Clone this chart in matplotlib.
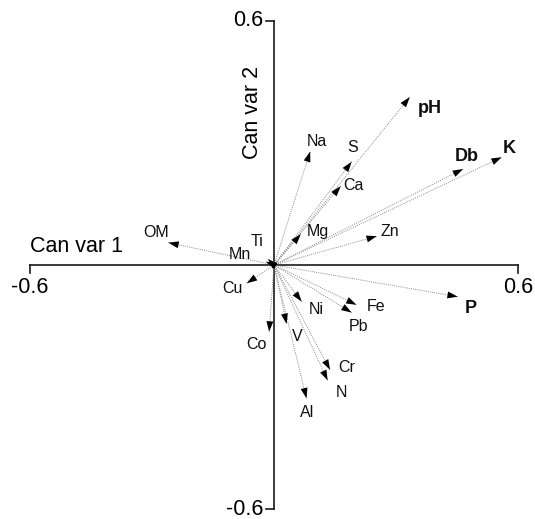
import matplotlib.pyplot as plt
import numpy as np

plt.rcParams['font.family'] = ['Liberation Sans', 'DejaVu Sans']

# canonical variate loadings (arrow tips)
variables = ["pH", "K", "Db", "Zn", "P", "Na", "S", "Ca", "Mg", "OM", "Ti", "Mn",
             "Cu", "Ni", "Fe", "Pb", "Co", "V", "Cr", "N", "Al"]
can1 = [0.334, 0.560, 0.465, 0.253, 0.452, 0.089, 0.191, 0.164, 0.066, -0.260, -0.015, -0.020,
        -0.067, 0.068, 0.203, 0.191, -0.012, 0.031, 0.138, 0.132, 0.080]
can2 = [0.413, 0.265, 0.236, 0.071, -0.078, 0.279, 0.254, 0.194, 0.076, 0.055, 0.015, 0.008,
        -0.045, -0.090, -0.098, -0.117, -0.164, -0.145, -0.258, -0.284, -0.328]
bold_vars = ["pH", "K", "Db", "P"]

axis_limit = 0.6
tick_labels = ["-0.6", "0.6"]

# label offsets from arrow tip, in pixels (layout only)
label_offsets = {
    "pH": (20, -11), "K": (7, 9), "Db": (4, 13), "Zn": (13, 5), "P": (13, -12),
    "Na": (7, 10), "S": (1, 14), "Ca": (13, 1), "Mg": (17, 3), "OM": (-12, 10),
    "Ti": (-11, 17), "Mn": (-26, 7), "Cu": (-14, -5), "Ni": (15, -8), "Fe": (20, -2),
    "Pb": (7, -14), "Co": (-13, -13), "V": (11, -13), "Cr": (17, 2), "N": (14, -12),
    "Al": (1, -14),
}

W, H = 535, 519
ox, oy = 274, 265          # pixel position of origin
scale = 406.7              # pixels per unit

fig = plt.figure(figsize=(W / 100, H / 100), dpi=100)
ax = fig.add_axes([0, 0, 1, 1])
ax.set_xlim(-ox / scale, (W - ox) / scale)
ax.set_ylim((oy - H) / scale, oy / scale)
ax.axis('off')

axc = '#1a1a1a'
tick = 8 / scale
ax.plot([-axis_limit, axis_limit], [0, 0], color=axc, lw=1.2, zorder=1)
ax.plot([0, 0], [-axis_limit, axis_limit], color=axc, lw=1.2, zorder=1)
for v in (-axis_limit, axis_limit):
    ax.plot([v, v], [0, -tick], color=axc, lw=1.2)
    ax.plot([0, -tick], [v, v], color=axc, lw=1.2)

fs_tick = 15.5
ax.text(-axis_limit, -12 / scale, tick_labels[0], ha='center', va='top', fontsize=fs_tick)
ax.text(axis_limit, -12 / scale, tick_labels[1], ha='center', va='top', fontsize=fs_tick)
ax.text(-11 / scale, axis_limit, tick_labels[1], ha='right', va='center', fontsize=fs_tick)
ax.text(-11 / scale, -axis_limit, tick_labels[0], ha='right', va='center', fontsize=fs_tick)

ax.text(-axis_limit, 0.0455, "Can var 1", ha='left', va='center', fontsize=fs_tick)
ax.text(-0.054, 0.376, "Can var 2", ha='center', va='center', rotation=90, fontsize=fs_tick)

for name, x, y in zip(variables, can1, can2):
    ax.plot([0, x], [0, y], color='#8a8a8a', lw=0.7, ls=(0, (1, 1.2)), zorder=2)
    d = np.array([x, y]) / np.hypot(x, y)
    ax.annotate('', xy=(x, y), xytext=(x - d[0] * 1e-3, y - d[1] * 1e-3),
                arrowprops=dict(arrowstyle='-|>,head_length=0.75,head_width=0.25',
                                color='black', lw=0, shrinkA=0, shrinkB=0,
                                mutation_scale=10),
                zorder=3)
    dx, dy = label_offsets[name]
    bold = name in bold_vars
    ax.annotate(name, xy=(x, y), xytext=(dx, dy), textcoords='offset pixels',
                ha='center', va='center',
                fontsize=13 if bold else 11.5,
                fontweight='bold' if bold else 'normal', color='#111111')

fig.savefig('out.png', dpi=100)
